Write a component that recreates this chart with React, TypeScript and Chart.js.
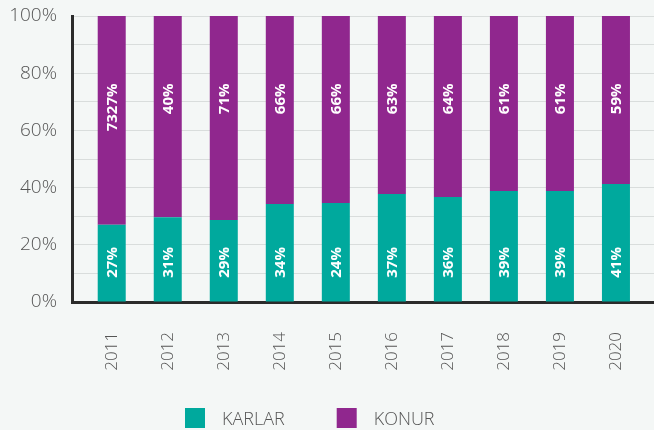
import React, { useEffect, useRef } from "react";
import { Chart, registerables } from "chart.js";

Chart.register(...registerables);

const years = ["2011", "2012", "2013", "2014", "2015", "2016", "2017", "2018", "2019", "2020"];
// bar heights (share of total, %)
const karlarValues = [27, 29.6, 28.7, 34.3, 34.6, 37.8, 36.7, 38.8, 38.8, 41.3];
const konurValues = [73, 70.4, 71.3, 65.7, 65.4, 62.2, 63.3, 61.2, 61.2, 58.7];
// printed labels as shown on the bars
const karlarLabels = ["27%", "31%", "29%", "34%", "24%", "37%", "36%", "39%", "39%", "41%"];
const konurLabels = ["7327%", "40%", "71%", "66%", "66%", "63%", "64%", "61%", "61%", "59%"];
const seriesNames = ["KARLAR", "KONUR"];
const yTicks = [0, 20, 40, 60, 80, 100];

const TEAL = "#00a99d";
const PURPLE = "#90278e";
const BG = "#f4f7f6";
const TEXT = "#555555";
const FONT = "'Open Sans', 'Noto Sans', sans-serif";

export default function App() {
  const ref = useRef<HTMLCanvasElement | null>(null);

  useEffect(() => {
    document.body.style.margin = "0";
    const canvas = ref.current;
    if (!canvas) return;

    const labelPlugin = {
      id: "barLabels",
      afterDatasetsDraw(chart: any) {
        const ctx = chart.ctx;
        const yScale = chart.scales.y;
        const anchors = [19.2, 76.4];
        const texts = [karlarLabels, konurLabels];
        ctx.save();
        ctx.fillStyle = "#ffffff";
        ctx.font = `bold 15px ${FONT}`;
        ctx.textAlign = "right";
        ctx.textBaseline = "middle";
        chart.data.datasets.forEach((_: any, di: number) => {
          const meta = chart.getDatasetMeta(di);
          meta.data.forEach((el: any, i: number) => {
            const y = yScale.getPixelForValue(anchors[di]);
            ctx.save();
            ctx.translate(el.x, y);
            ctx.rotate(-Math.PI / 2);
            ctx.fillText(texts[di][i], 0, 1);
            ctx.restore();
          });
        });
        ctx.restore();
      },
    };

    const legendPlugin = {
      id: "customLegend",
      afterDraw(chart: any) {
        const ctx = chart.ctx;
        ctx.save();
        ctx.font = `300 18px ${FONT}`;
        ctx.textBaseline = "middle";
        ctx.textAlign = "left";
        let x = 185;
        const top = 408;
        chart.data.datasets.forEach((ds: any) => {
          ctx.fillStyle = ds.backgroundColor;
          ctx.fillRect(x, top, 20, 20);
          ctx.fillStyle = TEXT;
          ctx.fillText(ds.label, x + 37, top + 12);
          x += 37 + ctx.measureText(ds.label).width + 52;
        });
        ctx.restore();
      },
    };

    const bgPlugin = {
      id: "bg",
      beforeDraw(chart: any) {
        const ctx = chart.ctx;
        ctx.save();
        ctx.fillStyle = BG;
        ctx.fillRect(0, 0, chart.width, chart.height);
        ctx.restore();
      },
    };

    const chart = new Chart(canvas, {
      type: "bar",
      data: {
        datasets: [
          {
            label: seriesNames[0],
            data: karlarValues.map((v, i) => ({ x: i, y: v })),
            backgroundColor: TEAL,
            barPercentage: 0.625,
            categoryPercentage: 0.8,
          },
          {
            label: seriesNames[1],
            data: konurValues.map((v, i) => ({ x: i, y: v })),
            backgroundColor: PURPLE,
            barPercentage: 0.625,
            categoryPercentage: 0.8,
          },
        ],
      },
      options: {
        responsive: false,
        animation: false,
        devicePixelRatio: 1,
        layout: { padding: { top: 16, left: 0, right: 0, bottom: 0 } },
        plugins: {
          legend: { display: false },
          tooltip: { enabled: false },
        },
        scales: {
          x: {
            type: "linear",
            stacked: true,
            offset: false,
            min: -0.709,
            max: 9.679,
            grid: { display: false, drawTicks: false },
            border: { display: true, color: "#2b2b2b", width: 3 },
            afterFit(scale: any) {
              scale.height = 128;
              scale.paddingLeft = 0;
              scale.paddingRight = 0;
            },
            ticks: {
              stepSize: 1,
              includeBounds: false,
              autoSkip: false,
              maxRotation: 90,
              minRotation: 90,
              padding: 30,
              color: TEXT,
              font: { family: FONT, size: 17, weight: "300" },
              callback: (v: any) => {
                const i = Number(v);
                return Number.isInteger(i) && i >= 0 && i < years.length ? years[i] : "";
              },
            },
          },
          y: {
            stacked: true,
            min: 0,
            max: 100,
            grid: { color: "#d9dddc", lineWidth: 1, drawTicks: false },
            border: { display: true, color: "#2b2b2b", width: 3 },
            afterFit(scale: any) {
              scale.width = 72;
              scale.paddingTop = 0;
              scale.paddingBottom = 0;
            },
            ticks: {
              stepSize: 10,
              padding: 15,
              color: TEXT,
              font: { family: FONT, size: 19, weight: "300" },
              callback: (v: any) => (yTicks.includes(Number(v)) ? `${v}%` : ""),
            },
          },
        },
      },
      plugins: [bgPlugin, labelPlugin, legendPlugin],
    });

    return () => chart.destroy();
  }, []);

  return (
    <div style={{ width: 654, height: 430, background: BG, overflow: "hidden" }}>
      <canvas ref={ref} width={654} height={430} style={{ display: "block" }} />
    </div>
  );
}
